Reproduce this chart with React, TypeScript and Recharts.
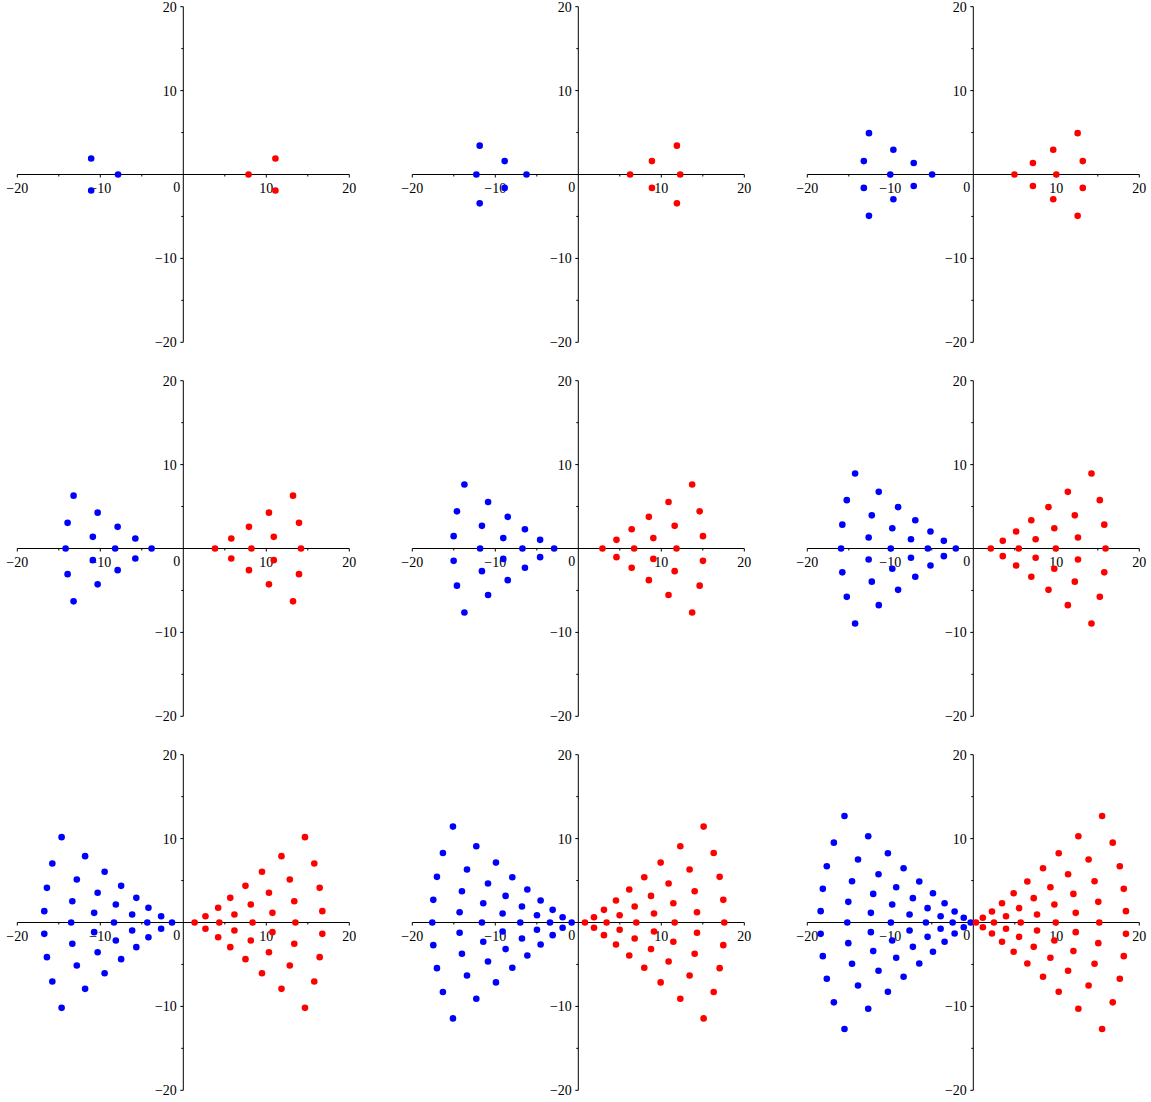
import React from 'react'

//* Recharts
import { ScatterChart, Scatter, XAxis, YAxis, ReferenceLine, ReferenceDot } from 'recharts'

type Pt = [number, number]

// panel 1
const blue1: Pt[] = [[-11.1, 1.9], [-7.86, 0], [-11.1, -1.9]]
const red1: Pt[] = [[7.86, 0], [11.1, 1.9], [11.1, -1.9]]

// panel 2
const blue2: Pt[] = [[-11.88, 3.44], [-8.87, 1.6], [-12.28, 0], [-6.24, 0], [-8.87, -1.6], [-11.88, -3.44]]
const red2: Pt[] = [[11.88, 3.44], [8.87, 1.6], [12.28, 0], [6.24, 0], [8.87, -1.6], [11.88, -3.44]]

// panel 3
const blue3: Pt[] = [
  [-12.57, 4.93], [-9.63, 2.95], [-13.19, 1.6], [-7.18, 1.37], [-10, 0], [-4.96, 0],
  [-13.19, -1.6], [-7.18, -1.37], [-9.63, -2.95], [-12.57, -4.93],
]
const red3: Pt[] = [
  [12.57, 4.93], [9.63, 2.95], [13.19, 1.6], [7.18, 1.37], [10, 0], [4.96, 0],
  [13.19, -1.6], [7.18, -1.37], [9.63, -2.95], [12.57, -4.93],
]

// panel 4
const blue4: Pt[] = [
  [-13.22, 6.3], [-10.32, 4.27], [-13.94, 3.06], [-7.91, 2.58], [-10.9, 1.39], [-5.78, 1.19],
  [-14.18, 0], [-8.21, 0], [-3.82, 0],
  [-10.9, -1.39], [-5.78, -1.19], [-13.94, -3.06], [-7.91, -2.58], [-10.32, -4.27], [-13.22, -6.3],
]
const red4: Pt[] = [
  [13.22, 6.3], [10.32, 4.27], [13.94, 3.06], [7.91, 2.58], [10.9, 1.39], [5.78, 1.19],
  [14.18, 0], [8.21, 0], [3.82, 0],
  [10.9, -1.39], [5.78, -1.19], [13.94, -3.06], [7.91, -2.58], [10.32, -4.27], [13.22, -6.3],
]

// panel 5
const blue5: Pt[] = [
  [-13.72, 7.63], [-10.87, 5.54], [-14.62, 4.43], [-8.5, 3.77], [-11.61, 2.7], [-6.43, 2.3],
  [-15.02, 1.47], [-9.04, 1.24], [-4.6, 1.03],
  [-11.83, 0], [-6.73, 0], [-2.91, 0],
  [-15.02, -1.47], [-9.04, -1.24], [-4.6, -1.03], [-11.61, -2.7], [-6.43, -2.3],
  [-14.62, -4.43], [-8.5, -3.77], [-10.87, -5.54], [-13.72, -7.63],
]
const red5: Pt[] = [
  [13.72, 7.63], [10.87, 5.54], [14.62, 4.43], [8.5, 3.77], [11.61, 2.7], [6.43, 2.3],
  [15.02, 1.47], [9.04, 1.24], [4.6, 1.03],
  [11.83, 0], [6.73, 0], [2.91, 0],
  [15.02, -1.47], [9.04, -1.24], [4.6, -1.03], [11.61, -2.7], [6.43, -2.3],
  [14.62, -4.43], [8.5, -3.77], [10.87, -5.54], [13.72, -7.63],
]

// panel 6
const blue6: Pt[] = [
  [-14.24, 8.94], [-11.39, 6.75], [-15.24, 5.76], [-9.06, 4.93], [-12.23, 3.95], [-6.99, 3.36],
  [-15.78, 2.84], [-9.76, 2.42], [-5.16, 2.03], [-12.61, 1.31], [-7.51, 1.11], [-3.55, 0.91],
  [-15.93, 0], [-9.94, 0], [-5.48, 0], [-2.11, 0],
  [-12.61, -1.31], [-7.51, -1.11], [-3.55, -0.91], [-15.78, -2.84], [-9.76, -2.42], [-5.16, -2.03],
  [-12.23, -3.95], [-6.99, -3.36], [-15.24, -5.76], [-9.06, -4.93], [-11.39, -6.75], [-14.24, -8.94],
]
const red6: Pt[] = [
  [14.24, 8.94], [11.39, 6.75], [15.24, 5.76], [9.06, 4.93], [12.23, 3.95], [6.99, 3.36],
  [15.78, 2.84], [9.76, 2.42], [5.16, 2.03], [12.61, 1.31], [7.51, 1.11], [3.55, 0.91],
  [15.93, 0], [9.94, 0], [5.48, 0], [2.11, 0],
  [12.61, -1.31], [7.51, -1.11], [3.55, -0.91], [15.78, -2.84], [9.76, -2.42], [5.16, -2.03],
  [12.23, -3.95], [6.99, -3.36], [15.24, -5.76], [9.06, -4.93], [11.39, -6.75], [14.24, -8.94],
]

// panel 7
const blue7: Pt[] = [
  [-14.66, 10.17], [-11.83, 7.91], [-15.78, 7.03], [-9.48, 6.04], [-12.83, 5.13], [-7.49, 4.37],
  [-16.43, 4.13], [-10.32, 3.54], [-5.66, 2.94], [-13.37, 2.54], [-8.13, 2.15], [-4.2, 1.75],
  [-16.75, 1.35], [-10.74, 1.15], [-6.16, 0.95], [-2.67, 0.75],
  [-13.51, 0], [-8.35, 0], [-4.34, 0], [-1.36, 0],
  [-16.75, -1.35], [-10.74, -1.15], [-6.16, -0.95], [-2.67, -0.75],
  [-16.43, -4.13], [-10.32, -3.54], [-5.66, -2.94], [-13.37, -2.54], [-8.13, -2.15], [-4.2, -1.75],
  [-14.66, -10.17], [-11.83, -7.91], [-15.78, -7.03], [-9.48, -6.04], [-12.83, -5.13], [-7.49, -4.37],
]
const red7: Pt[] = [
  [14.66, 10.17], [11.83, 7.91], [15.78, 7.03], [9.48, 6.04], [12.83, 5.13], [7.49, 4.37],
  [16.43, 4.13], [10.32, 3.54], [5.66, 2.94], [13.37, 2.54], [8.13, 2.15], [4.2, 1.75],
  [16.75, 1.35], [10.74, 1.15], [6.16, 0.95], [2.67, 0.75],
  [13.51, 0], [8.35, 0], [4.34, 0], [1.36, 0],
  [16.75, -1.35], [10.74, -1.15], [6.16, -0.95], [2.67, -0.75],
  [16.43, -4.13], [10.32, -3.54], [5.66, -2.94], [13.37, -2.54], [8.13, -2.15], [4.2, -1.75],
  [14.66, -10.17], [11.83, -7.91], [15.78, -7.03], [9.48, -6.04], [12.83, -5.13], [7.49, -4.37],
]

// panel 8
const blue8: Pt[] = [
  [-15.1, 11.43], [-12.29, 9.09], [-16.31, 8.29], [-9.92, 7.14], [-13.41, 6.31], [-17.03, 5.44],
  [-7.95, 5.4], [-10.88, 4.64], [-6.14, 3.93], [-14.02, 3.73], [-8.76, 3.17], [-17.47, 2.7],
  [-4.54, 2.62], [-11.45, 2.3], [-6.79, 1.9], [-3.09, 1.51], [-14.3, 1.23], [-9.12, 1.07],
  [-4.98, 0.87], [-1.89, 0.63],
  [-17.59, 0], [-11.61, 0], [-6.99, 0], [-3.41, 0], [-0.8, 0],
  [-15.1, -11.43], [-12.29, -9.09], [-16.31, -8.29], [-9.92, -7.14], [-13.41, -6.31], [-17.03, -5.44],
  [-7.95, -5.4], [-10.88, -4.64], [-6.14, -3.93], [-14.02, -3.73], [-8.76, -3.17], [-17.47, -2.7],
  [-4.54, -2.62], [-11.45, -2.3], [-6.79, -1.9], [-3.09, -1.51], [-14.3, -1.23], [-9.12, -1.07],
  [-4.98, -0.87], [-1.89, -0.63],
]
const red8: Pt[] = [
  [15.1, 11.43], [12.29, 9.09], [16.31, 8.29], [9.92, 7.14], [13.41, 6.31], [17.03, 5.44],
  [7.95, 5.4], [10.88, 4.64], [6.14, 3.93], [14.02, 3.73], [8.76, 3.17], [17.47, 2.7],
  [4.54, 2.62], [11.45, 2.3], [6.79, 1.9], [3.09, 1.51], [14.3, 1.23], [9.12, 1.07],
  [4.98, 0.87], [1.89, 0.63],
  [17.59, 0], [11.61, 0], [6.99, 0], [3.41, 0], [0.8, 0],
  [15.1, -11.43], [12.29, -9.09], [16.31, -8.29], [9.92, -7.14], [13.41, -6.31], [17.03, -5.44],
  [7.95, -5.4], [10.88, -4.64], [6.14, -3.93], [14.02, -3.73], [8.76, -3.17], [17.47, -2.7],
  [4.54, -2.62], [11.45, -2.3], [6.79, -1.9], [3.09, -1.51], [14.3, -1.23], [9.12, -1.07],
  [4.98, -0.87], [1.89, -0.63],
]

// panel 9
const blue9: Pt[] = [
  [-15.52, 12.7], [-12.66, 10.28], [-16.8, 9.52], [-10.29, 8.25], [-13.89, 7.5], [-17.65, 6.71],
  [-8.4, 6.47], [-11.42, 5.75], [-14.61, 4.92], [-6.51, 4.88], [-9.29, 4.21], [-18.13, 4.01],
  [-4.86, 3.49], [-12.06, 3.41], [-7.28, 2.9], [-15.06, 2.46], [-3.46, 2.3], [-9.77, 2.14],
  [-5.51, 1.71], [-18.39, 1.35], [-2.25, 1.31], [-12.34, 1.15], [-7.68, 0.95], [-3.94, 0.75],
  [-1.15, 0.56],
  [-15.18, 0], [-9.93, 0], [-5.71, 0], [-2.49, 0], [-0.32, 0],
  [-15.52, -12.7], [-12.66, -10.28], [-16.8, -9.52], [-10.29, -8.25], [-13.89, -7.5], [-17.65, -6.71],
  [-8.4, -6.47], [-11.42, -5.75], [-14.61, -4.92], [-6.51, -4.88], [-9.29, -4.21], [-18.13, -4.01],
  [-4.86, -3.49], [-12.06, -3.41], [-7.28, -2.9], [-15.06, -2.46], [-3.46, -2.3], [-9.77, -2.14],
  [-5.51, -1.71], [-18.39, -1.35], [-2.25, -1.31], [-12.34, -1.15], [-7.68, -0.95], [-3.94, -0.75],
  [-1.15, -0.56],
]
const red9: Pt[] = [
  [15.52, 12.7], [12.66, 10.28], [16.8, 9.52], [10.29, 8.25], [13.89, 7.5], [17.65, 6.71],
  [8.4, 6.47], [11.42, 5.75], [14.61, 4.92], [6.51, 4.88], [9.29, 4.21], [18.13, 4.01],
  [4.86, 3.49], [12.06, 3.41], [7.28, 2.9], [15.06, 2.46], [3.46, 2.3], [9.77, 2.14],
  [5.51, 1.71], [18.39, 1.35], [2.25, 1.31], [12.34, 1.15], [7.68, 0.95], [3.94, 0.75],
  [1.15, 0.56],
  [15.18, 0], [9.93, 0], [5.71, 0], [2.49, 0], [0.32, 0],
  [15.52, -12.7], [12.66, -10.28], [16.8, -9.52], [10.29, -8.25], [13.89, -7.5], [17.65, -6.71],
  [8.4, -6.47], [11.42, -5.75], [14.61, -4.92], [6.51, -4.88], [9.29, -4.21], [18.13, -4.01],
  [4.86, -3.49], [12.06, -3.41], [7.28, -2.9], [15.06, -2.46], [3.46, -2.3], [9.77, -2.14],
  [5.51, -1.71], [18.39, -1.35], [2.25, -1.31], [12.34, -1.15], [7.68, -0.95], [3.94, -0.75],
  [1.15, -0.56],
]

const panels: [Pt[], Pt[]][] = [
  [blue1, red1], [blue2, red2], [blue3, red3],
  [blue4, red4], [blue5, red5], [blue6, red6],
  [blue7, red7], [blue8, red8], [blue9, red9],
]

const axisTicks = [-20, -15, -10, -5, 5, 10, 15, 20]

const FONT = '"Liberation Serif", "Times New Roman", serif'
const fmt = (v: number) => (v < 0 ? '\u2212' + Math.abs(v) : String(v))

const toXY = (pts: Pt[]) => pts.map(([x, y]) => ({ x, y }))

const dot = (color: string) => (p: any) => (
  <circle cx={p.cx} cy={p.cy} r={3.3} fill={color} />
)

const xTick = (v: number) => (p: any) => {
  const major = v % 10 === 0
  return (
    <g>
      <line x1={p.cx} y1={p.cy} x2={p.cx} y2={p.cy + (major ? 3 : 2)} stroke="#000" strokeWidth={1} />
      {major && (
        <text x={p.cx} y={p.cy + 18} textAnchor="middle" fontSize={14} fontFamily={FONT} fill="#000">
          {fmt(v)}
        </text>
      )}
    </g>
  )
}

const yTick = (v: number) => (p: any) => {
  const major = v % 10 === 0
  return (
    <g>
      <line x1={p.cx} y1={p.cy} x2={p.cx - (major ? 3 : 2)} y2={p.cy} stroke="#000" strokeWidth={1} />
      {major && (
        <text x={p.cx - 6.5} y={p.cy + 5} textAnchor="end" fontSize={14} fontFamily={FONT} fill="#000">
          {fmt(v)}
        </text>
      )}
    </g>
  )
}

const zeroLabel = (p: any) => (
  <text x={p.cx - 6.5} y={p.cy + 17} textAnchor="middle" fontSize={14} fontFamily={FONT} fill="#000">
    0
  </text>
)

function Panel({ blue, red }: { blue: Pt[]; red: Pt[] }) {
  return (
    <ScatterChart width={395} height={374} margin={{ top: 6.7, right: 45.7, bottom: 31.7, left: 17.3 }}>
      <XAxis type="number" dataKey="x" domain={[-20, 20]} hide allowDataOverflow />
      <YAxis type="number" dataKey="y" domain={[-20, 20]} hide allowDataOverflow />
      <ReferenceLine x={0} stroke="#000" strokeWidth={1} />
      <ReferenceLine y={0} stroke="#000" strokeWidth={1} />
      {axisTicks.map((v) => (
        <ReferenceDot key={'x' + v} x={v} y={0} ifOverflow="visible" shape={xTick(v)} />
      ))}
      {axisTicks.map((v) => (
        <ReferenceDot key={'y' + v} x={0} y={v} ifOverflow="visible" shape={yTick(v)} />
      ))}
      <ReferenceDot x={0} y={0} ifOverflow="visible" shape={zeroLabel} />
      <Scatter data={toXY(blue)} fill="#0000ff" shape={dot('#0000ff')} isAnimationActive={false} />
      <Scatter data={toXY(red)} fill="#ff0000" shape={dot('#ff0000')} isAnimationActive={false} />
    </ScatterChart>
  )
}

function App() {
  return (
    <div style={{ position: 'absolute', left: 0, top: 0, width: 1151, height: 1102, overflow: 'hidden', background: '#fff' }}>
      {panels.map(([blue, red], i) => (
        <div key={i} style={{ position: 'absolute', left: (i % 3) * 395, top: Math.floor(i / 3) * 374 }}>
          <Panel blue={blue} red={red} />
        </div>
      ))}
    </div>
  )
}

export default App
